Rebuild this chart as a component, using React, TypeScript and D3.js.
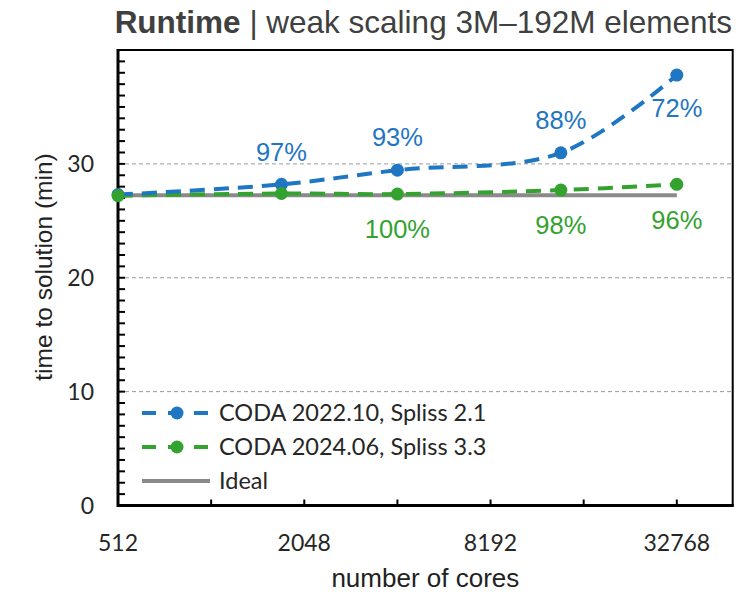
import React from "react";
import * as d3 from "d3";

const cores = [512, 1728, 4096, 13824, 32768];
const coda2022 = [27.3, 28.2, 29.45, 30.97, 37.8];
const coda2024 = [27.2, 27.4, 27.35, 27.7, 28.2];
const ideal = [27.25, 27.25, 27.25, 27.25, 27.25];
const coda2022Labels = ["", "97%", "93%", "88%", "72%"];
const coda2024Labels = ["", "", "100%", "98%", "96%"];
const xTickValues = [512, 1024, 2048, 4096, 8192, 16384, 32768];
const xTickLabels = ["512", "", "2048", "", "8192", "", "32768"];
const yMajorTicks = [0, 10, 20, 30];
const seriesNames = ["CODA 2022.10, Spliss 2.1", "CODA 2024.06, Spliss 3.3", "Ideal"];

const BLUE = "#1f76c2";
const GREEN = "#33a22f";
const GRAY = "#8a8a8a";
const W = 755;
const H = 592;
const L = 118, R = 732.7, T = 50, B = 505.5;

export default function App() {
  const x = d3.scaleLog().base(2).domain([512, 512 * Math.pow(2, 6.6)]).range([L, R]);
  const y = d3.scaleLinear().domain([0, 40]).range([B, T]);
  const minor = d3.range(0, 41, 1);
  const pts = (vals: number[]) => cores.map((c, i) => [x(c), y(vals[i])] as [number, number]);
  const smooth = d3.line().curve(d3.curveCatmullRom.alpha(0.5));
  const straight = d3.line();
  const tickFont = "Lato, 'Noto Sans', sans-serif";
  const arial = "'Liberation Sans', Arial, sans-serif";

  const legendY = [413, 447, 481];

  return (
    <div style={{ position: "absolute", left: 0, top: 0 }}>
      <svg width={W} height={H} style={{ display: "block", background: "#fff" }}>
        <text x={(L + R) / 2 - 2} y={33} textAnchor="middle" fontFamily={arial} fontSize={31.5} fill="#404040">
          <tspan fontWeight="bold">Runtime</tspan>
          <tspan> | weak scaling 3M–192M elements</tspan>
        </text>

        {/* grid */}
        {yMajorTicks.filter((v) => v > 0).map((v) => (
          <line key={"g" + v} x1={L} x2={R} y1={y(v)} y2={y(v)} stroke="#9a9a9a" strokeWidth={1} strokeDasharray="4,3" />
        ))}

        {/* y minor ticks */}
        {minor.map((v) => (
          <line key={"yt" + v} x1={L} x2={L + 7} y1={y(v)} y2={y(v)} stroke="#000" strokeWidth={2} />
        ))}
        {/* x ticks */}
        {xTickValues.slice(1).map((v) => (
          <line key={"xt" + v} x1={x(v)} x2={x(v)} y1={B} y2={B - 6} stroke="#000" strokeWidth={2} />
        ))}

        {/* frame */}
        <rect x={L} y={T} width={R - L} height={B - T} fill="none" stroke="#000" strokeWidth={2} />
        <line x1={L} x2={L} y1={T - 1} y2={B + 1.5} stroke="#000" strokeWidth={3} />
        <line x1={L - 1} x2={R + 1} y1={B} y2={B} stroke="#000" strokeWidth={3} />

        {/* y tick labels */}
        {yMajorTicks.map((v) => (
          <text key={"yl" + v} x={94} y={y(v)} dy="0.36em" textAnchor="end" fontFamily={tickFont} fontSize={23} fill="#262626">
            {v}
          </text>
        ))}
        {/* x tick labels */}
        {xTickValues.map((v, i) =>
          xTickLabels[i] ? (
            <text key={"xl" + v} x={x(v)} y={543} dy="0.36em" textAnchor="middle" fontFamily={tickFont} fontSize={23} fill="#262626">
              {xTickLabels[i]}
            </text>
          ) : null
        )}

        {/* axis titles */}
        <text x={(L + R) / 2} y={578} dy="0.36em" textAnchor="middle" fontFamily={arial} fontSize={26} fill="#222">
          number of cores
        </text>
        <text transform={`translate(43,267) rotate(-90)`} dy="0.36em" textAnchor="middle" fontFamily={arial} fontSize={24.5} fill="#222">
          time to solution (min)
        </text>

        {/* ideal */}
        <path d={straight(pts(ideal)) || ""} fill="none" stroke={GRAY} strokeWidth={4} />
        {/* green */}
        <path d={smooth(pts(coda2024)) || ""} fill="none" stroke={GREEN} strokeWidth={4} strokeDasharray="15,9" />
        {/* blue */}
        <path d={smooth(pts(coda2022)) || ""} fill="none" stroke={BLUE} strokeWidth={4} strokeDasharray="15,9" />
        {pts(coda2022).map((p, i) => (
          <circle key={"bc" + i} cx={p[0]} cy={p[1]} r={6.5} fill={BLUE} />
        ))}
        {pts(coda2024).map((p, i) => (
          <circle key={"gc" + i} cx={p[0]} cy={p[1]} r={6.5} fill={GREEN} />
        ))}

        {/* data labels */}
        {pts(coda2022).map((p, i) =>
          coda2022Labels[i] ? (
            <text key={"bl" + i} x={p[0]} y={p[1] + (i === 4 ? 33 : -33)} dy="0.36em" textAnchor="middle" fontFamily={arial} fontSize={25.5} fill={BLUE}>
              {coda2022Labels[i]}
            </text>
          ) : null
        )}
        {pts(coda2024).map((p, i) =>
          coda2024Labels[i] ? (
            <text key={"gl" + i} x={p[0]} y={p[1] + 35} dy="0.36em" textAnchor="middle" fontFamily={arial} fontSize={25.5} fill={GREEN}>
              {coda2024Labels[i]}
            </text>
          ) : null
        )}

        {/* legend */}
        {[BLUE, GREEN].map((c, i) => (
          <g key={"lg" + i}>
            <line x1={142} x2={210} y1={legendY[i]} y2={legendY[i]} stroke={c} strokeWidth={4} strokeDasharray="14,12" />
            <circle cx={177} cy={legendY[i]} r={6.5} fill={c} />
          </g>
        ))}
        <line x1={142} x2={210} y1={legendY[2]} y2={legendY[2]} stroke={GRAY} strokeWidth={4} />
        {seriesNames.map((n, i) => (
          <text key={"lt" + i} x={219} y={legendY[i]} dy="0.36em" fontFamily={tickFont} fontSize={23.5} fill="#262626">
            {n}
          </text>
        ))}
      </svg>
    </div>
  );
}
